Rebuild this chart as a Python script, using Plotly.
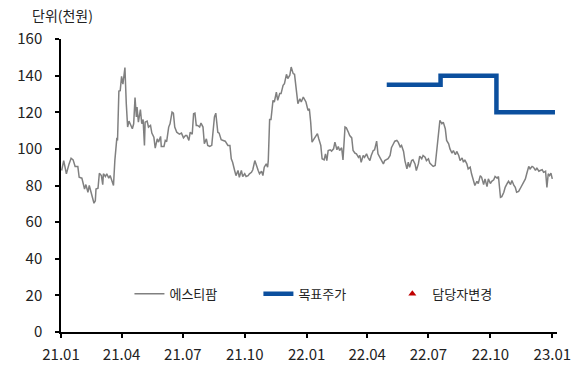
import pandas as pd
import plotly.graph_objects as go

# ---- data ----
base_date = "2021-01-01"
price_day = [1, 4, 6, 8, 12, 15, 18, 21, 25, 27, 31, 35, 37, 40, 42, 45, 47, 49, 51, 52, 55, 57, 60, 62, 63, 66, 68, 71, 73, 76, 78, 80, 83, 84, 86, 88, 90, 92, 94, 95, 97, 99, 101, 104, 106, 108, 110, 112, 113, 115, 118, 120, 122, 124, 125, 128, 130, 133, 135, 138, 140, 143, 145, 148, 149, 153, 155, 157, 160, 162, 165, 167, 169, 172, 176, 179, 182, 185,
             187, 190, 192, 195, 197, 199, 201, 203, 206, 208, 211, 213, 216, 218, 221, 224, 226, 228, 230, 233, 235, 238, 241, 244, 248, 251, 253, 255, 258, 260, 263, 265, 268, 270, 273, 275, 278, 280, 283, 285, 288, 290, 293, 295, 298, 300, 302, 305, 307, 308, 310, 312, 315, 317, 320, 322, 325, 327, 330, 332, 335, 337, 340, 342, 345, 347, 350, 352, 355, 357, 360, 362, 364, 367, 369,
             371, 373, 376, 378, 381, 383, 386, 388, 391, 393, 395, 397, 400, 402, 405, 407, 410, 412, 414, 417, 419, 422, 424, 427, 429, 432, 434, 437, 439, 442, 444, 446, 449, 451, 454, 456, 459, 461, 464, 466, 469, 471, 474, 476, 479, 481, 484, 486, 489, 491, 494, 496, 499, 501, 504, 506, 509, 511, 514, 516, 518, 521, 523, 526, 528, 531, 533, 536, 538, 541, 543, 546, 548, 551, 553, 556,
             559, 561, 563, 566, 568, 571, 573, 576, 578, 581, 583, 586, 588, 591, 593, 596, 598, 600, 603, 605, 608, 610, 613, 615, 618, 620, 623, 625, 628, 630, 633, 635, 638, 640, 643, 645, 648, 650, 653, 655, 658, 660, 663, 665, 668, 670, 673, 675, 677, 680, 682, 685, 687, 690, 692, 695, 697, 700, 702, 705, 707, 710, 712, 715, 717, 720, 722, 724, 726, 728, 730]
price = [88.2, 93.6, 90.0, 86.4, 91.8, 94.9, 94.0, 90.4, 90.4, 84.5, 84.0, 78.1, 80.5, 76.3, 80.0, 75.4, 73.9, 70.3, 71.7, 78.1, 78.5, 86.7, 85.4, 80.5, 86.4, 84.9, 86.4, 84.0, 85.4, 82.3, 80.0, 93.6, 106.0, 104.6, 131.6, 131.8, 139.6, 135.3, 140.2, 144.4, 124.7, 111.9, 115.2, 112.8, 111.0, 113.7, 128.0, 117.4, 122.8, 114.6, 121.4, 113.7, 116.0, 101.9, 114.6, 115.2, 111.9, 112.8, 108.6, 106.4, 100.4, 105.5, 103.7, 106.8, 101.3, 101.3, 104.6, 104.0, 111.9, 113.7, 120.1, 119.5, 111.9, 109.1, 108.0, 108.6, 106.0, 107.3,
         107.3, 104.6, 109.1, 108.0, 119.2, 119.5, 112.8, 112.8, 111.9, 114.1, 111.9, 102.8, 105.5, 101.9, 101.3, 101.9, 109.1, 117.4, 119.5, 109.1, 108.6, 105.0, 104.6, 104.2, 101.9, 101.9, 94.6, 92.7, 88.2, 85.4, 88.2, 84.5, 88.2, 84.9, 86.4, 84.9, 85.4, 86.4, 87.2, 88.6, 93.6, 90.9, 88.2, 86.4, 87.8, 85.4, 90.0, 91.8, 90.0, 93.6, 116.0, 116.0, 126.5, 125.6, 131.0, 126.5, 130.2, 130.2, 134.7, 135.6, 140.7, 138.4, 140.2, 144.7, 141.1, 140.7, 131.0, 124.7, 127.4, 125.6, 128.3, 126.5, 125.6, 121.0, 121.9,
         114.6, 103.7, 105.5, 106.4, 108.3, 105.5, 101.9, 94.6, 94.0, 97.3, 93.6, 99.1, 99.5, 98.8, 100.0, 103.7, 99.5, 101.3, 99.1, 100.6, 94.0, 111.9, 111.5, 109.1, 107.3, 106.0, 99.1, 97.6, 97.3, 95.4, 96.4, 92.7, 96.4, 95.4, 97.3, 95.4, 93.6, 96.4, 99.1, 99.5, 104.2, 97.3, 95.4, 93.6, 91.8, 93.6, 94.0, 94.6, 96.4, 100.6, 102.8, 104.2, 104.6, 103.7, 101.1, 101.9, 98.6, 93.6, 89.1, 92.7, 90.0, 93.6, 94.0, 91.8, 88.2, 91.8, 96.0, 94.6, 96.4, 95.4, 93.6, 94.6, 92.2, 90.9, 90.4, 90.9,
         100.9, 109.1, 115.6, 113.7, 114.6, 111.0, 104.6, 102.8, 100.0, 97.6, 99.1, 96.8, 98.6, 96.4, 93.6, 95.1, 92.7, 94.0, 91.8, 89.1, 90.0, 86.4, 82.7, 80.0, 82.3, 81.1, 85.4, 84.5, 80.5, 83.6, 79.4, 83.6, 81.1, 82.3, 83.1, 84.9, 84.0, 84.9, 73.5, 73.9, 76.3, 79.0, 81.1, 82.3, 80.5, 82.7, 80.0, 79.0, 76.3, 76.8, 78.1, 80.0, 81.8, 83.6, 86.4, 90.4, 89.1, 90.4, 90.0, 88.2, 89.6, 87.8, 88.2, 88.6, 87.2, 87.8, 79.0, 86.4, 85.4, 86.8, 83.6]

target_dates = ["2022-04-30", "2022-07-19", "2022-10-10", "2023-01-05"]
target_price = [135, 140, 120, 120]

tick_dates = ["2021-01-01", "2021-04-01", "2021-07-01", "2021-10-01", "2022-01-01",
              "2022-04-01", "2022-07-01", "2022-10-01", "2023-01-01"]
tick_labels = ["21.01", "21.04", "21.07", "21.10", "22.01", "22.04", "22.07", "22.10", "23.01"]
y_ticks = [0, 20, 40, 60, 80, 100, 120, 140, 160]

series_names = ["에스티팜", "목표주가", "담당자변경"]
unit_label = "단위(천원)"

# ---- figure ----
price_dates = pd.to_datetime(base_date) + pd.to_timedelta(price_day, unit="D")

FONT = "Noto Sans CJK KR"
TXT = "#222222"

fig = go.Figure()
fig.add_trace(go.Scatter(x=price_dates, y=price, mode="lines", name=series_names[0],
                         line=dict(color="#808080", width=1.5), legend="legend"))
fig.add_trace(go.Scatter(x=pd.to_datetime(target_dates), y=target_price, mode="lines",
                         name=series_names[1], line=dict(color="#0B4F9E", width=4.5, shape="hv"),
                         legend="legend2"))
fig.add_trace(go.Scatter(x=[None], y=[None], mode="markers", name=series_names[2],
                         marker=dict(symbol="triangle-up", size=7, color="#C00000"),
                         legend="legend3"))

leg_common = dict(orientation="h", yanchor="middle", y=0.13, xanchor="left", visible=True,
                  bgcolor="rgba(0,0,0,0)", font=dict(family=FONT, size=13, color=TXT))
fig.update_layout(
    width=581, height=365,
    showlegend=True,
    margin=dict(l=61, r=24, t=39, b=33),
    paper_bgcolor="white", plot_bgcolor="white",
    font=dict(family=FONT, size=15, color=TXT),
    legend=dict(x=0.138, **leg_common),
    legend2=dict(x=0.398, **leg_common),
    legend3=dict(x=0.668, **leg_common),
    xaxis=dict(type="date", range=["2021-01-01", "2023-01-08"], automargin=False,
               tickvals=tick_dates, ticktext=tick_labels,
               ticks="outside", ticklen=4, tickwidth=1.5, tickcolor="black",
               showline=True, linecolor="black", linewidth=1.5,
               showgrid=False, zeroline=False, ticklabelstandoff=4,
               tickfont=dict(family=FONT, size=15, color=TXT)),
    yaxis=dict(range=[0, 160], tickvals=y_ticks, automargin=False,
               ticks="outside", ticklen=4, tickwidth=1.5, tickcolor="black",
               showline=True, linecolor="black", linewidth=1.5,
               showgrid=False, zeroline=False, ticklabelstandoff=10,
               tickfont=dict(family=FONT, size=15, color=TXT)),
    annotations=[dict(text=unit_label, xref="paper", yref="paper", x=-0.062, y=1.082,
                      xanchor="left", yanchor="middle", showarrow=False,
                      font=dict(family=FONT, size=14, color=TXT))],
)

fig.write_html("out.html")
